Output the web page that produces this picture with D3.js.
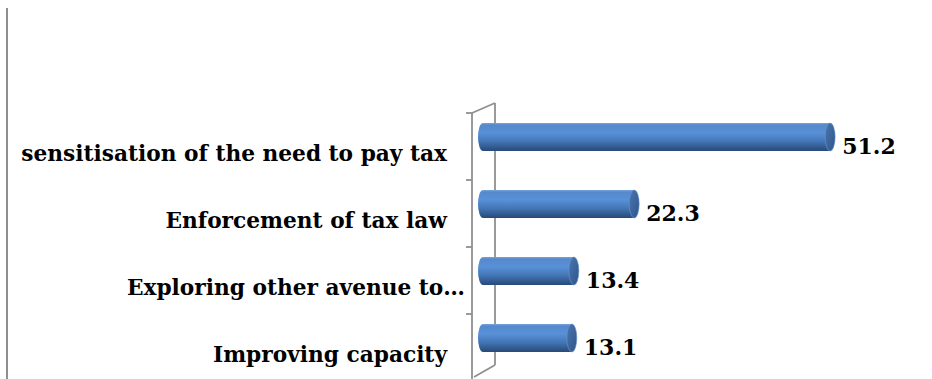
<!DOCTYPE html>
<html>
<head>
<meta charset="utf-8">
<script src="https://cdn.jsdelivr.net/npm/d3@7"></script>
<style>
  html, body { margin: 0; padding: 0; background: #ffffff; }
  svg { display: block; }
  text { font-family: "DejaVu Serif", "Liberation Serif", serif; font-weight: bold; fill: #000; }
</style>
</head>
<body>
<svg id="chart" width="932" height="379"></svg>
<script>
// Categories (top to bottom) and their percentages
const categories = [
  "sensitisation of the need to pay tax",
  "Enforcement of tax law",
  "Exploring other avenue to\u2026",
  "Improving capacity"
];
const values = [51.2, 22.3, 13.4, 13.1];
const valueLabels = ["51.2", "22.3", "13.4", "13.1"];

const svg = d3.select("#chart");
const W = 932, H = 379;

// 3D wall geometry: front plane of the category axis and its depth offset
const axisX = 472;
const depth = { dx: 23, dy: -10 };

const y = d3.scaleBand().domain(categories).range([113, 381]).padding(0);
const x = d3.scaleLinear().domain([0, 55]).range([483, 483 + 55 * 6.78]);

const barH = 28;
const capRx = 5;
const barShift = -9.5; // bars sit toward the back of the wall

// Gradients for the cylinder body and its end cap
const defs = svg.append("defs");
const body = defs.append("linearGradient").attr("id", "cylBody")
  .attr("x1", 0).attr("y1", 0).attr("x2", 0).attr("y2", 1);
[["0%", "#78a5de"], ["7%", "#5689cb"], ["35%", "#5891d8"], ["65%", "#4476b6"], ["90%", "#2e5689"], ["100%", "#294a77"]]
  .forEach(([o, c]) => body.append("stop").attr("offset", o).attr("stop-color", c));
const cap = defs.append("linearGradient").attr("id", "cylCap")
  .attr("x1", 0).attr("y1", 0).attr("x2", 1).attr("y2", 1);
[["0%", "#4a76b0"], ["100%", "#2f5588"]]
  .forEach(([o, c]) => cap.append("stop").attr("offset", o).attr("stop-color", c));

// Chart area left border
svg.append("line")
  .attr("x1", 7).attr("x2", 7).attr("y1", 8).attr("y2", H)
  .attr("stroke", "#8f8f8f").attr("stroke-width", 2);

// Category axis wall (front edge, back edge, top and bottom diagonals)
const yTop = y.range()[0], yBot = y.range()[1];
const wall = svg.append("g").attr("stroke", "#8f8f8f").attr("stroke-width", 1.8).attr("fill", "none");
wall.append("line").attr("x1", axisX).attr("x2", axisX).attr("y1", yTop).attr("y2", yBot);
wall.append("line").attr("x1", axisX + depth.dx).attr("x2", axisX + depth.dx)
  .attr("y1", yTop + depth.dy).attr("y2", yBot + depth.dy - 6);
wall.append("line").attr("x1", axisX).attr("y1", yTop)
  .attr("x2", axisX + depth.dx).attr("y2", yTop + depth.dy);
wall.append("line").attr("x1", axisX + 2).attr("y1", yBot - 4)
  .attr("x2", axisX + depth.dx).attr("y2", yBot + depth.dy - 6);

// Tick marks at the category boundaries
const tickYs = categories.map(c => y(c)).concat([yBot]);
wall.selectAll("line.tick").data(tickYs).enter().append("line")
  .attr("class", "tick")
  .attr("x1", axisX - 6).attr("x2", axisX)
  .attr("y1", d => d).attr("y2", d => d);

// Category labels
svg.append("g").selectAll("text").data(categories).enter().append("text")
  .attr("x", d => d.endsWith("\u2026") ? axisX - 7 : axisX - 25)
  .attr("y", d => y(d) + y.bandwidth() / 2 + 14)
  .attr("text-anchor", "end")
  .attr("font-size", 21.7)
  .text(d => d);

// Cylinder bars
const bars = svg.append("g").selectAll("g").data(values).enter().append("g")
  .attr("transform", (d, i) => `translate(0,${y(categories[i]) + y.bandwidth() / 2 + barShift})`);
bars.append("ellipse")
  .attr("cx", x(0)).attr("cy", 0).attr("rx", capRx).attr("ry", barH / 2)
  .attr("fill", "url(#cylBody)");
bars.append("rect")
  .attr("x", x(0)).attr("y", -barH / 2)
  .attr("width", d => x(d) - x(0)).attr("height", barH)
  .attr("fill", "url(#cylBody)");
bars.append("ellipse")
  .attr("cx", d => x(d)).attr("cy", 0).attr("rx", capRx).attr("ry", barH / 2)
  .attr("fill", "url(#cylCap)")
  .attr("stroke", "#6a96cf").attr("stroke-width", 0.6);

// Value labels
svg.append("g").selectAll("text").data(values).enter().append("text")
  .attr("x", d => x(d) + capRx + 7)
  .attr("y", (d, i) => y(categories[i]) + y.bandwidth() / 2 + barShift + 17)
  .attr("font-size", 22)
  .text((d, i) => valueLabels[i]);
</script>
</body>
</html>
